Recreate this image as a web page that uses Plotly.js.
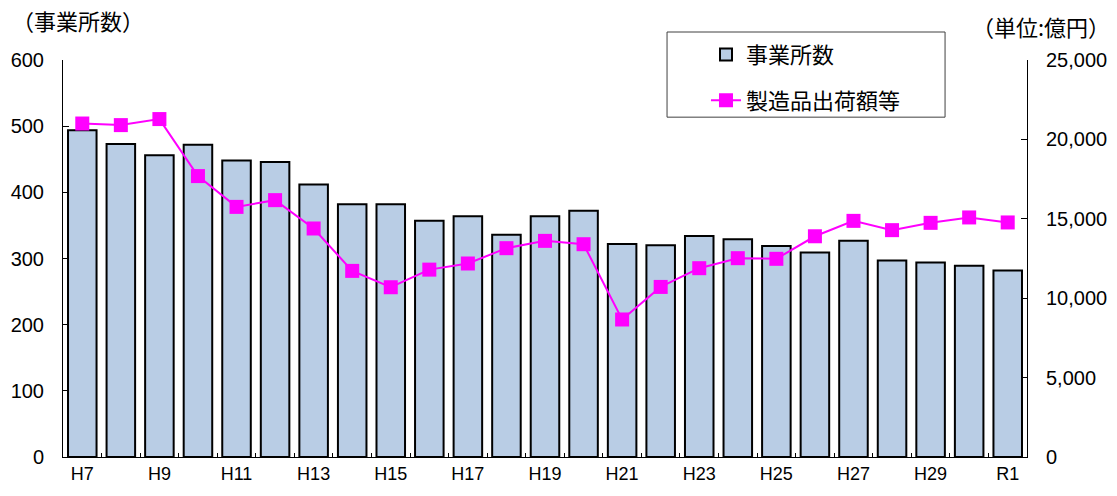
<!DOCTYPE html>
<html>
<head>
<meta charset="utf-8">
<script src="https://cdn.plot.ly/plotly-3.0.1.min.js"></script>
<style>html,body{margin:0;padding:0;background:#fff;}#chart{width:1117px;height:496px;}</style>
</head>
<body>
<div id="chart"></div>
<script>
const categories = ['H7','H8','H9','H10','H11','H12','H13','H14','H15','H16','H17','H18','H19','H20','H21','H22','H23','H24','H25','H26','H27','H28','H29','H30','R1'];
const tickText = ['H7','','H9','','H11','','H13','','H15','','H17','','H19','','H21','','H23','','H25','','H27','','H29','','R1'];
const establishments = [494,473,456,472,448,446,412,382,382,357,364,336,364,372,322,320,334,329,319,309,327,297,294,289,282];
const shipments = [21000,20900,21280,17690,15750,16175,14390,11720,10690,11800,12185,13150,13610,13400,8660,10710,11890,12520,12480,13900,14870,14285,14745,15085,14770];

const jp = '"Noto Sans CJK JP", "Noto Sans", sans-serif';
const num = '"Liberation Sans", Arial, sans-serif';

const traces = [
  {
    type: 'bar', name: '事業所数', x: categories, y: establishments,
    marker: {color: '#B9CDE5', line: {color: '#000', width: 2}},
    legendgroup: 'a', hoverinfo: 'x+y'
  },
  {
    type: 'scatter', mode: 'lines+markers', name: '製造品出荷額等', x: categories, y: shipments,
    yaxis: 'y2', line: {color: '#FF00FF', width: 2},
    marker: {symbol: 'square', size: 14, color: '#FF00FF'},
    legendgroup: 'b'
  }
];

const layout = {
  width: 1117, height: 496,
  margin: {l: 63, r: 90, t: 60, b: 39},
  paper_bgcolor: '#fff', plot_bgcolor: '#fff',
  bargap: 0.26,
  font: {family: num, size: 18, color: '#000'},
  xaxis: {
    type: 'category', tickvals: categories, ticktext: tickText, tickangle: 0,
    tickson: 'boundaries', ticks: 'inside', ticklen: 4, tickcolor: '#000',
    showline: true, linecolor: '#000', linewidth: 1, showgrid: false,
    range: [-0.5, 24.5], tickfont: {family: num, size: 18}
  },
  yaxis: {
    range: [0, 600], dtick: 100, ticks: 'inside', ticklen: 6, tickcolor: '#000',
    showline: true, linecolor: '#000', linewidth: 1, showgrid: false, zeroline: false,
    ticklabelstandoff: 14, tickfont: {family: num, size: 20}
  },
  yaxis2: {
    overlaying: 'y', side: 'right', range: [0, 25000], dtick: 5000, tickformat: ',d',
    ticks: 'inside', ticklen: 6, tickcolor: '#000',
    showline: true, linecolor: '#000', linewidth: 1, showgrid: false, zeroline: false,
    ticklabelstandoff: 14, tickfont: {family: num, size: 20}
  },
  showlegend: true,
  legend: {
    x: 0.667, y: 1.066, xanchor: 'left', yanchor: 'top',
    bgcolor: 'rgba(0,0,0,0)', borderwidth: 0,
    traceorder: 'grouped', tracegroupgap: 14,
    font: {family: jp, size: 22, color: '#000'}
  },
  shapes: [
    {type: 'rect', xref: 'paper', yref: 'paper', x0: 0.6266, x1: 0.915, y0: 0.856, y1: 1.0705,
     line: {color: '#404040', width: 1}, fillcolor: '#fff', layer: 'below'}
  ],
  annotations: [
    {text: '（事業所数）', xref: 'paper', yref: 'paper', x: -0.055, y: 1.10, xanchor: 'left', yanchor: 'middle',
     showarrow: false, font: {family: jp, size: 22, color: '#000'}},
    {text: '（単位:億円）', xref: 'paper', yref: 'paper', x: 1.088, y: 1.085, xanchor: 'right', yanchor: 'middle',
     showarrow: false, font: {family: jp, size: 22, color: '#000'}}
  ]
};

Plotly.newPlot('chart', traces, layout, {displayModeBar: false, staticPlot: true});
</script>
</body>
</html>
